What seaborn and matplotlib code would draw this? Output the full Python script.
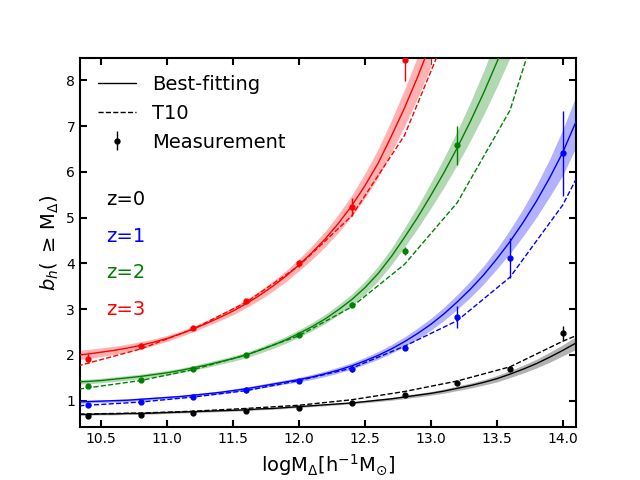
import numpy as np
import pandas as pd
import matplotlib
matplotlib.use('Agg')
import matplotlib.pyplot as plt
import seaborn as sns
from matplotlib.lines import Line2D

# --- mass bins of the measurements ---
m_obs = [10.4, 10.8, 11.2, 11.6, 12.0, 12.4, 12.8, 13.2, 13.6, 14.0]

# measured bias (z=0..3) and errors
b_obs_z0 = [0.67, 0.69, 0.72, 0.78, 0.85, 0.95, 1.12, 1.39, 1.69, 2.48]
e_obs_z0 = [0.03, 0.02, 0.02, 0.02, 0.02, 0.03, 0.03, 0.03, 0.04, 0.16]
b_obs_z1 = [0.91, 0.98, 1.09, 1.23, 1.44, 1.69, 2.15, 2.83, 4.12, 6.41]
e_obs_z1 = [0.04, 0.03, 0.03, 0.06, 0.04, 0.07, 0.05, 0.24, 0.44, 0.93]
b_obs_z2 = [1.31, 1.45, 1.70, 2.00, 2.44, 3.10, 4.27, 6.58]
e_obs_z2 = [0.03, 0.03, 0.03, 0.03, 0.04, 0.05, 0.08, 0.43]
b_obs_z3 = [1.92, 2.20, 2.59, 3.18, 4.00, 5.24, 8.45]
e_obs_z3 = [0.09, 0.05, 0.04, 0.04, 0.08, 0.20, 0.46]

# --- T10 prediction ---
m_t10 = [10.0, 10.4, 10.8, 11.2, 11.6, 12.0, 12.4, 12.8, 13.2, 13.6, 14.0, 14.4]
t10_z0 = [0.69, 0.71, 0.73, 0.77, 0.83, 0.90, 1.02, 1.20, 1.43, 1.74, 2.30, 2.78]
t10_z1 = [0.84, 0.90, 0.97, 1.08, 1.22, 1.44, 1.71, 2.19, 2.75, 3.70, 5.28, 7.52]
t10_z2 = [1.12, 1.28, 1.44, 1.68, 2.00, 2.42, 3.05, 3.98, 5.33, 7.35, 11.0]
t10_z3 = [1.50, 1.82, 2.13, 2.57, 3.15, 3.95, 5.04, 6.80, 9.60]

# --- best-fitting curves and their uncertainty (half width) ---
m_fit = [10.3, 10.4, 10.5, 10.6, 10.7, 10.8, 10.9, 11.0, 11.1, 11.2,
         11.3, 11.4, 11.5, 11.6, 11.7, 11.8, 11.9, 12.0, 12.1, 12.2,
         12.3, 12.4, 12.5, 12.6, 12.7, 12.8, 12.9, 13.0, 13.1, 13.2,
         13.3, 13.4, 13.5, 13.6, 13.7, 13.8, 13.9, 14.0, 14.1]

fit_z0 = [0.70, 0.70, 0.71, 0.71, 0.72, 0.72, 0.73, 0.74, 0.75, 0.76,
          0.77, 0.78, 0.79, 0.80, 0.82, 0.83, 0.85, 0.87, 0.89, 0.91,
          0.93, 0.95, 0.98, 1.01, 1.04, 1.08, 1.12, 1.16, 1.21, 1.27,
          1.33, 1.40, 1.48, 1.58, 1.69, 1.81, 1.95, 2.10, 2.26]
err_z0 = [0.02, 0.02, 0.02, 0.02, 0.02, 0.02, 0.02, 0.02, 0.02, 0.02,
          0.02, 0.02, 0.02, 0.02, 0.02, 0.02, 0.02, 0.02, 0.02, 0.02,
          0.02, 0.02, 0.025, 0.03, 0.03, 0.035, 0.04, 0.04, 0.045, 0.05,
          0.055, 0.06, 0.07, 0.075, 0.085, 0.095, 0.11, 0.12, 0.14]

fit_z1 = [0.97, 0.98, 0.99, 1.00, 1.01, 1.03, 1.05, 1.07, 1.09, 1.12,
          1.15, 1.18, 1.22, 1.26, 1.31, 1.36, 1.41, 1.46, 1.52, 1.59,
          1.67, 1.76, 1.87, 1.99, 2.13, 2.29, 2.47, 2.67, 2.90, 3.16,
          3.44, 3.75, 4.10, 4.48, 4.90, 5.36, 5.87, 6.43, 7.10]
err_z1 = [0.03, 0.03, 0.03, 0.03, 0.03, 0.03, 0.03, 0.03, 0.03, 0.03,
          0.03, 0.035, 0.035, 0.04, 0.04, 0.045, 0.045, 0.05, 0.055, 0.06,
          0.065, 0.07, 0.075, 0.085, 0.095, 0.105, 0.12, 0.13, 0.145, 0.16,
          0.18, 0.20, 0.22, 0.26, 0.30, 0.35, 0.41, 0.50, 0.56]

fit_z2 = [1.41, 1.42, 1.44, 1.47, 1.50, 1.53, 1.57, 1.61, 1.66, 1.72,
          1.78, 1.85, 1.92, 2.00, 2.10, 2.21, 2.33, 2.47, 2.62, 2.79,
          2.99, 3.21, 3.47, 3.78, 4.15, 4.57, 5.01, 5.49, 5.99, 6.53,
          7.11, 7.73, 8.40, 9.10]
err_z2 = [0.05, 0.05, 0.05, 0.05, 0.05, 0.05, 0.05, 0.05, 0.05, 0.05,
          0.055, 0.055, 0.06, 0.06, 0.065, 0.07, 0.075, 0.08, 0.09, 0.10,
          0.11, 0.12, 0.14, 0.16, 0.18, 0.21, 0.24, 0.28, 0.32, 0.37,
          0.42, 0.48, 0.54, 0.60]

fit_z3 = [1.99, 2.02, 2.06, 2.10, 2.15, 2.21, 2.28, 2.36, 2.46, 2.57,
          2.69, 2.82, 2.96, 3.12, 3.30, 3.50, 3.72, 3.97, 4.24, 4.54,
          4.88, 5.26, 5.70, 6.19, 6.78, 7.40, 8.08, 8.82]
err_z3 = [0.10, 0.10, 0.095, 0.09, 0.085, 0.08, 0.07, 0.065, 0.06, 0.06,
          0.06, 0.07, 0.08, 0.09, 0.10, 0.11, 0.12, 0.13, 0.15, 0.17,
          0.20, 0.23, 0.27, 0.31, 0.35, 0.40, 0.45, 0.50]

redshifts = ['z=0', 'z=1', 'z=2', 'z=3']
colores = ['black', 'blue', 'green', 'red']
bandas = ['#b2b2b2', '#b2b2ff', '#b2d8b2', '#ffb2b2']

obs = [(b_obs_z0, e_obs_z0), (b_obs_z1, e_obs_z1), (b_obs_z2, e_obs_z2), (b_obs_z3, e_obs_z3)]
t10 = [t10_z0, t10_z1, t10_z2, t10_z3]
fits = [(fit_z0, err_z0), (fit_z1, err_z1), (fit_z2, err_z2), (fit_z3, err_z3)]

# tablas largas para seaborn
df_fit = pd.concat([pd.DataFrame({'logM': m_fit[:len(f)], 'b': f, 'z': z})
                    for (f, _), z in zip(fits, redshifts)], ignore_index=True)
df_t10 = pd.concat([pd.DataFrame({'logM': m_t10[:len(t)], 'b': t, 'z': z})
                    for t, z in zip(t10, redshifts)], ignore_index=True)
paleta = dict(zip(redshifts, colores))

sns.set_style('ticks')
plt.rcParams.update({'text.color': 'black', 'axes.labelcolor': 'black',
                     'xtick.color': 'black', 'ytick.color': 'black',
                     'axes.edgecolor': 'black'})
fig, ax = plt.subplots(figsize=(6.4, 4.8), dpi=100)

for (f, e), c in zip(fits, bandas):
    x = np.array(m_fit[:len(f)])
    f = np.array(f)
    e = np.array(e)
    ax.fill_between(x, f - e, f + e, color=c, lw=0, zorder=1)

sns.lineplot(data=df_fit, x='logM', y='b', hue='z', palette=paleta,
             estimator=None, sort=False, lw=1, legend=False, ax=ax, zorder=3)
sns.lineplot(data=df_t10, x='logM', y='b', hue='z', palette=paleta,
             estimator=None, sort=False, lw=1, ls='--', legend=False, ax=ax, zorder=3)

for (b, e), c in zip(obs, colores):
    ax.errorbar(m_obs[:len(b)], b, yerr=e, fmt='o', ms=3.5, color=c,
                elinewidth=1, capsize=0, zorder=4)

for i, (z, c) in enumerate(zip(redshifts, colores)):
    ax.text(0.052, 0.616 - 0.099 * i, z, color=c, fontsize=14,
            transform=ax.transAxes, va='center', ha='left')

ax.set_xlim(10.34, 14.1)
ax.set_ylim(0.42, 8.5)
ax.set_xticks(np.arange(10.5, 14.01, 0.5))
ax.set_yticks(range(1, 9))
ax.set_xlabel(r'logM$_\Delta$[h$^{-1}$M$_{\odot}$]', fontsize=14)
ax.set_ylabel(r'$b_h(\;\geq\,\mathrm{M}_\Delta)$', fontsize=14)
ax.tick_params(direction='in', top=True, right=True, length=5, width=1.5,
               labelsize=10, colors='black')
for s in ax.spines.values():
    s.set_linewidth(1.5)
    s.set_color('black')

h_fit = Line2D([], [], color='k', lw=1)
h_t10 = Line2D([], [], color='k', lw=1, ls='--')
h_obs = ax.errorbar([], [], yerr=[], fmt='o', ms=3.5, color='k', elinewidth=1)
ax.legend([h_fit, h_t10, h_obs], ['Best-fitting', 'T10', 'Measurement'],
          loc='upper left', frameon=False, fontsize=14, labelspacing=0.5)

plt.savefig('out.png', dpi=100)
